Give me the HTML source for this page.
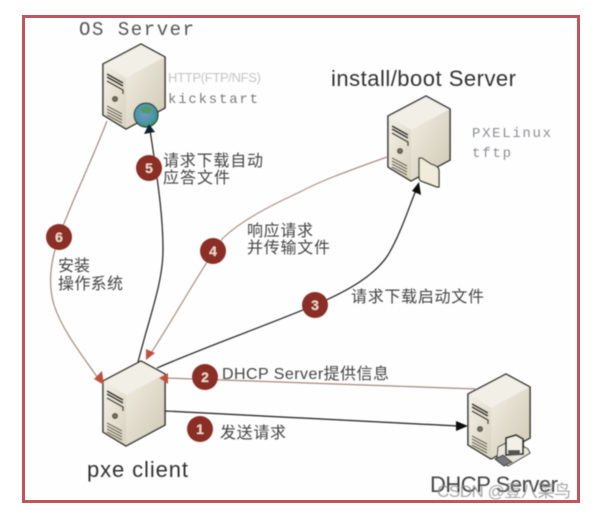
<!DOCTYPE html>
<html>
<head>
<meta charset="utf-8">
<style>
html,body{margin:0;padding:0;background:#fff;width:611px;height:519px;overflow:hidden}
svg{display:block}
text{font-family:"Liberation Sans","Noto Sans CJK SC",sans-serif}
.m{font-family:"Liberation Mono","Noto Sans CJK SC",monospace}
.c{font-size:16px;fill:#444}
.n{font-size:14px;font-weight:bold;fill:#f0d9c8;text-anchor:middle}
</style>
</head>
<body>
<svg width="611" height="519" viewBox="0 0 611 519" xmlns="http://www.w3.org/2000/svg">
<defs>
<linearGradient id="gl" x1="0" y1="0" x2="1" y2="1"><stop offset="0" stop-color="#f3f0e6"/><stop offset="1" stop-color="#d8d2bf"/></linearGradient>
<linearGradient id="gr" x1="0" y1="0" x2="1" y2="1"><stop offset="0" stop-color="#f0ede2"/><stop offset="1" stop-color="#cfc9b4"/></linearGradient>
<filter id="s" x="-30%" y="-30%" width="160%" height="160%"><feGaussianBlur stdDeviation="0.5"/></filter>
<g id="srv">
<path d="M0 0L24 13L24 64L-15 85L-38 71L-38 20Z" fill="#e8e4d6"/>
<path d="M0 0L24 13L-15 34L-38 20Z" fill="#f1efe6"/>
<path d="M24 13V64L-15 85V34Z" fill="url(#gr)"/>
<path d="M-38 20L-15 34V85L-38 71Z" fill="url(#gl)"/>
<path d="M0 0L24 13V64L-15 85L-38 71V20Z" fill="none" stroke="#2b2b26" stroke-width="1.5" stroke-linejoin="round"/>
<path d="M-34 30L-18 39M-34 33L-18 42" stroke="#1e1e1a" stroke-width="1.6" fill="none"/>
<path d="M-34 37L-18 46V50" stroke="#1e1e1a" stroke-width="1.3" fill="none"/>
<circle cx="-26" cy="55" r="2.6" fill="#77705f" stroke="#333" stroke-width=".8"/>
<path d="M-34 65L-19 73M-34 68L-19 76M-34 71L-19 79M-34 62L-19 70" stroke="#55503f" stroke-width="1.1" fill="none"/>
</g>
<radialGradient id="globe" cx=".45" cy=".45" r=".6"><stop offset="0" stop-color="#6a9fc0"/><stop offset=".65" stop-color="#4f93a8"/><stop offset="1" stop-color="#2f9a5c"/></radialGradient>
</defs>

<rect x="23.5" y="16.5" width="555" height="485" fill="#fffefe" stroke="#c0555b" stroke-width="3"/>

<g filter="url(#s)">
<use href="#srv" x="141" y="44"/>
<use href="#srv" x="426" y="96"/>
<use href="#srv" x="141" y="361"/>
<use href="#srv" x="506" y="374"/>

<circle cx="146" cy="115" r="12" fill="url(#globe)" stroke="#1f3d30" stroke-width="1.2"/>
<path d="M141 108q6-4 11 1q-2 6-7 4q-4 1-4-5Z" fill="#4f9b62"/>

<path d="M422 158L431 164Q439 166 439 171V187L437 187L421 181Q419 180 419 176V158Z" fill="#f0ecd9" stroke="#2b2b26" stroke-width="1.3" stroke-linejoin="round"/>

<path d="M498 447L512 440L528 449L530 453L508 466L497 459Z" fill="#e9e6da" stroke="#2b2b26" stroke-width="1"/>
<path d="M506 438L516 435L523 439V454L506 455Z" fill="#f3f1e7" stroke="#222" stroke-width="1.8"/>
<rect x="508" y="450" width="12" height="5" fill="#555"/>
<path d="M495 459L504 466L512 462L503 455Z" fill="#777" stroke="#222" stroke-width=".8"/>

<path d="M107 121C90 165 70 205 59 237C50 262 48 285 54 305C62 330 82 355 100 381" fill="none" stroke="#a08a80" stroke-width="1.2"/>
<path d="M104 385L94 379L102 371Z" fill="#c0503f"/>

<path d="M138 362C150 315 163 282 163 250C163 212 156 170 150 130" fill="none" stroke="#1f1f1f" stroke-width="1.2"/>
<path d="M149 124L155 132L144 134Z" fill="#10202c"/>

<path d="M387 157C345 172 318 182 300 192C265 208 240 222 223 238C200 270 170 325 149 356" fill="none" stroke="#a89085" stroke-width="1.2"/>
<path d="M146 360L146 349L155 353Z" fill="#c0503f"/>

<path d="M157 368C210 345 260 328 315 305C350 290 375 275 388 255C400 235 408 210 416 190" fill="none" stroke="#1f1f1f" stroke-width="1.2"/>
<path d="M419 182L421 195L412 191Z" fill="#111"/>

<path d="M477 389L166 378" fill="none" stroke="#a58a80" stroke-width="1.3"/>
<path d="M159 378L168 373V384Z" fill="#c0503f"/>

<path d="M165 411L458 426" fill="none" stroke="#1f1f1f" stroke-width="1.2"/>
<path d="M468 426L456 421V431Z" fill="#111"/>

<g fill="#8a2f25">
<circle cx="149" cy="168" r="13"/>
<circle cx="59" cy="237" r="13"/>
<circle cx="213" cy="251" r="13"/>
<circle cx="315" cy="305" r="13"/>
<circle cx="205" cy="377" r="13"/>
<circle cx="200" cy="429" r="13"/>
</g>
<text class="n" x="149" y="173">5</text>
<text class="n" x="59" y="242">6</text>
<text class="n" x="213" y="256">4</text>
<text class="n" x="315" y="310">3</text>
<text class="n" x="205" y="382">2</text>
<text class="n" x="200" y="434">1</text>

<text class="m" x="79" y="35" font-size="19" fill="#555" textLength="115">OS Server</text>
<text x="168" y="82" font-size="13" fill="#c4c4c4" textLength="93">HTTP(FTP/NFS)</text>
<text class="m" x="168" y="103" font-size="14" fill="#7a7a7a" textLength="90">kickstart</text>
<text x="331" y="86" font-size="22" fill="#333" textLength="185">install/boot Server</text>
<text class="m" x="472" y="137" font-size="14" fill="#8a8f93" textLength="79">PXELinux</text>
<text class="m" x="472" y="157" font-size="14" fill="#8a8f93" textLength="39">tftp</text>
<text x="87" y="477" font-size="22" fill="#333" textLength="101">pxe client</text>
<text x="430" y="492" font-size="22" fill="#444" textLength="128">DHCP Server</text>

<text class="c" x="163" y="166" textLength="100">请求下载自动</text>
<text class="c" x="163" y="183" textLength="67">应答文件</text>
<text class="c" x="247" y="236" textLength="66">响应请求</text>
<text class="c" x="247" y="253" textLength="83">并传输文件</text>
<text class="c" x="58" y="271" textLength="32">安装</text>
<text class="c" x="58" y="289" textLength="65">操作系统</text>
<text class="c" x="351" y="302" textLength="133">请求下载启动文件</text>
<text class="c" x="222" y="379" textLength="167">DHCP Server提供信息</text>
<text class="c" x="220" y="438" textLength="66">发送请求</text>

<text x="437" y="497" font-size="17" fill="#888" fill-opacity=".75" textLength="134">CSDN @壹八菜鸟</text>
</g>
</svg>
</body>
</html>
